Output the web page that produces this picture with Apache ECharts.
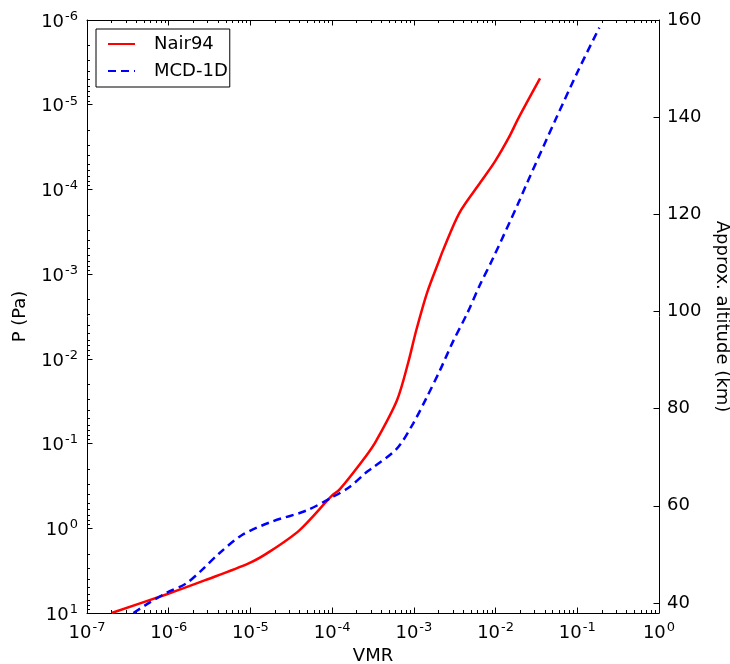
<!DOCTYPE html>
<html>
<head>
<meta charset="utf-8">
<script src="https://cdn.jsdelivr.net/npm/echarts@6/dist/echarts.min.js"></script>
<style>
  html, body { margin: 0; padding: 0; background: #fff; }
  #chart { width: 730px; height: 664px; }
</style>
</head>
<body>
<div id="chart"></div>
<script>
// Nair94 profile: volume mixing ratio vs pressure (Pa)
const nairVmr = [2.0e-7, 9.5e-7, 2.8e-6, 9.5e-6, 1.7e-5, 4.0e-5, 1.0e-4, 1.23e-4, 2.6e-4, 3.5e-4,
                 6.2e-4, 8.5e-4, 1.07e-3, 1.45e-3, 2.05e-3, 2.3e-3, 3.6e-3, 6.5e-3, 9.8e-3, 1.45e-2,
                 1.9e-2, 3.5e-2];
const nairP   = [10, 6.0, 4.1, 2.6, 1.9, 1.05, 0.41, 0.35, 0.14, 0.091,
                 0.031, 0.0112, 4.6e-3, 1.66e-3, 6.8e-4, 5.1e-4, 1.9e-4, 8.3e-5, 4.7e-5, 2.45e-5,
                 1.45e-5, 4.9e-6];

// MCD-1D profile
const mcdVmr = [3.7e-7, 5.75e-7, 9.5e-7, 1.62e-6, 2.5e-6, 4.1e-6, 7.9e-6, 1.86e-5, 4.8e-5, 1.0e-4,
                1.6e-4, 2.6e-4, 3.2e-4, 6.2e-4, 9.8e-4, 1.45e-3, 2.1e-3, 3.0e-3, 4.5e-3, 6.3e-3,
                9.3e-3, 1.9e-2, 2.4e-2, 5.6e-2, 0.102, 0.186];
const mcdP   = [10, 7.6, 5.75, 4.5, 3.16, 2.0, 1.2, 0.83, 0.62, 0.43,
                0.33, 0.22, 0.19, 0.115, 0.058, 0.028, 0.0135, 6.3e-3, 2.9e-3, 1.4e-3,
                6.5e-4, 1.45e-4, 8.6e-5, 1.4e-5, 4.0e-6, 1.23e-6];

// Axis ranges and tick labels
const vmrRange = [1e-7, 1];
const pRange = [1e-6, 10];
const altRange = [37.94, 160];
const altTicks = [40, 60, 80, 100, 120, 140, 160];

const FONT = 'DejaVu Sans';

// log10 positions of the 2..9 minor ticks inside each decade
function minorLogTicks(lo, hi) {
  const out = [];
  for (let d = lo; d < hi; d++) {
    for (let k = 2; k <= 9; k++) out.push(d + Math.log10(k));
  }
  return out;
}

const powRich = {
  b: { fontSize: 18, fontFamily: FONT, color: '#000', verticalAlign: 'bottom', lineHeight: 22 },
  s: { fontSize: 13, fontFamily: FONT, color: '#000', verticalAlign: 'bottom', padding: [0, 0, 8, 1] }
};
function powLabel(v) {
  const e = Math.round(Math.log10(v));
  return '{b|10}{s|' + e + '}';
}

const axisLine = { show: true, onZero: false, lineStyle: { color: '#000', width: 1 } };
const noLine = { show: false, onZero: false };
const majorTick = { show: true, inside: true, length: 5.5, lineStyle: { color: '#000', width: 1 } };
const minorTick = (lo, hi) => ({ show: true, inside: true, length: 3, lineStyle: { color: '#000', width: 1 }, customValues: minorLogTicks(lo, hi) });

const chart = echarts.init(document.getElementById('chart'), null, { renderer: 'canvas' });

const option = {
  animation: false,
  backgroundColor: '#fff',
  grid: { left: 87, top: 20, right: 71, bottom: 51, containLabel: false, outerBoundsMode: 'none' },
  legend: {
    orient: 'vertical',
    left: 96, top: 29,
    padding: [6, 2, 7, 11],
    itemGap: 9,
    itemWidth: 27, itemHeight: 14,
    borderColor: '#000', borderWidth: 1, borderRadius: 0,
    backgroundColor: '#fff',
    itemStyle: { opacity: 0 },
    textStyle: { fontFamily: FONT, fontSize: 18, color: '#000', padding: [0, 0, 0, 14], lineHeight: 18 },
    data: ['Nair94', 'MCD-1D']
  },
  xAxis: [
    {
      type: 'log', logBase: 10, position: 'bottom',
      min: vmrRange[0], max: vmrRange[1],
      axisLine, axisTick: majorTick, splitLine: { show: false },
      axisLabel: { formatter: powLabel, rich: powRich, margin: 7 },
      name: 'VMR', nameLocation: 'middle', nameGap: 32,
      nameTextStyle: { fontFamily: FONT, fontSize: 18, color: '#000' }
    },
    {
      type: 'value', position: 'bottom', min: -7, max: 0,
      axisLine: noLine, axisLabel: { show: false }, splitLine: { show: false },
      axisTick: minorTick(-7, 0)
    },
    {
      type: 'log', logBase: 10, position: 'top',
      min: vmrRange[0], max: vmrRange[1],
      axisLine, axisTick: majorTick, splitLine: { show: false },
      axisLabel: { show: false }
    },
    {
      type: 'value', position: 'top', min: -7, max: 0,
      axisLine: noLine, axisLabel: { show: false }, splitLine: { show: false },
      axisTick: minorTick(-7, 0)
    }
  ],
  yAxis: [
    {
      type: 'log', logBase: 10, position: 'left', inverse: true,
      min: pRange[0], max: pRange[1],
      axisLine, axisTick: majorTick, splitLine: { show: false },
      axisLabel: { formatter: powLabel, rich: powRich, margin: 9 },
      name: 'P (Pa)', nameLocation: 'middle', nameGap: 58, nameRotate: 90,
      nameTextStyle: { fontFamily: FONT, fontSize: 18, color: '#000' }
    },
    {
      type: 'value', position: 'left', inverse: true, min: -6, max: 1,
      axisLine: noLine, axisLabel: { show: false }, splitLine: { show: false },
      axisTick: minorTick(-6, 1)
    },
    {
      type: 'value', position: 'right', min: altRange[0], max: altRange[1],
      axisLine, splitLine: { show: false },
      axisTick: Object.assign({}, majorTick, { customValues: altTicks }),
      axisLabel: { customValues: altTicks, margin: 8, fontFamily: FONT, fontSize: 18, color: '#000' },
      name: 'Approx. altitude (km)', nameLocation: 'middle', nameGap: 48, nameRotate: -90,
      nameTextStyle: { fontFamily: FONT, fontSize: 18, color: '#000' }
    }
  ],
  series: [
    {
      name: 'Nair94', type: 'line', xAxisIndex: 0, yAxisIndex: 0,
      data: nairVmr.map((v, i) => [v, nairP[i]]),
      showSymbol: false, symbol: 'none', smooth: 0.3,
      lineStyle: { color: '#ff0000', width: 2.5 },
      itemStyle: { color: '#ff0000' }
    },
    {
      name: 'MCD-1D', type: 'line', xAxisIndex: 0, yAxisIndex: 0,
      data: mcdVmr.map((v, i) => [v, mcdP[i]]),
      showSymbol: false, symbol: 'none', smooth: 0.3,
      lineStyle: { color: '#0000ff', width: 2.5, type: [8, 5] },
      itemStyle: { color: '#0000ff' }
    }
  ]
};

chart.setOption(option);
</script>
</body>
</html>
